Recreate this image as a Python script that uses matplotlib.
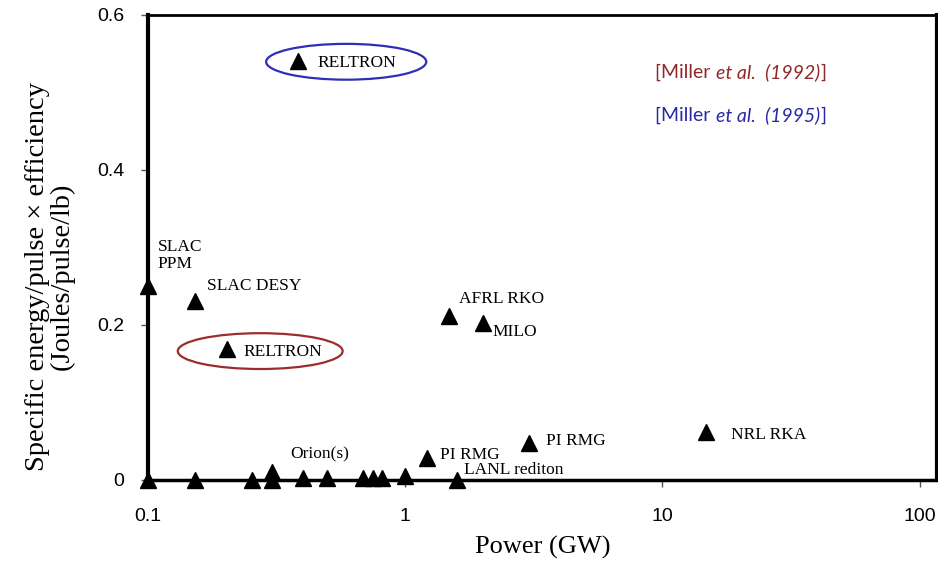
import matplotlib.pyplot as plt
from matplotlib.patches import Ellipse
from matplotlib.ticker import FixedLocator, NullLocator

# power (GW) and specific energy/pulse x efficiency (J/pulse/lb)
power = [0.1, 0.152, 0.203, 0.384, 1.48, 2.0, 1.21, 3.04, 14.8, 1.59,
         0.1, 0.152, 0.254, 0.303, 0.303, 0.4, 0.497, 0.686, 0.75, 0.81, 1.0]
energy = [0.25, 0.231, 0.169, 0.54, 0.212, 0.203, 0.028, 0.048, 0.062, 0.0,
          0.0, 0.0, 0.0, 0.0, 0.01, 0.003, 0.003, 0.003, 0.003, 0.002, 0.005]
names = ["SLAC\nPPM", "SLAC DESY", "RELTRON", "RELTRON", "AFRL RKO", "MILO",
         "PI RMG", "PI RMG", "NRL RKA", "LANL rediton",
         None, None, None, None, None, "Orion(s)", None, None, None, None, None]

x_ticks = [0.1, 1, 10, 100]
x_tick_labels = ["0.1", "1", "10", "100"]
y_ticks = [0, 0.2, 0.4, 0.6]
y_tick_labels = ["0", "0.2", "0.4", "0.6"]

ref_years = ["1992", "1995"]

# label offsets in points (dx, dy)
offsets = {
    0: (7, 22), 1: (9, 11), 2: (12, -2), 3: (14, -1), 4: (7, 12),
    5: (7, -7), 6: (10, 2), 7: (12, 1), 8: (18, -2), 9: (5, 7), 15: (-9, 17),
}

serif = "Liberation Serif"

fig = plt.figure(figsize=(9.38, 5.69), dpi=100)
ax = fig.add_axes([0.158, 0.1565, 0.841, 0.8175])

ax.plot(power, energy, linestyle="none", marker="^", markersize=12,
        color="black", clip_on=False, zorder=3)

for i, name in enumerate(names):
    if name is None:
        continue
    dx, dy = offsets[i]
    ax.annotate(name, (power[i], energy[i]), xytext=(dx, dy),
                textcoords="offset points", ha="left", va="center",
                fontsize=12.5, family=serif, linespacing=1.1)

ax.set_xscale("log")
ax.set_xlim(0.1, 117)
ax.set_ylim(0, 0.6)
ax.xaxis.set_major_locator(FixedLocator(x_ticks))
ax.xaxis.set_minor_locator(NullLocator())
ax.set_xticklabels(x_tick_labels)
ax.set_yticks(y_ticks)
ax.set_yticklabels(y_tick_labels)
ax.tick_params(labelsize=14, length=5, width=1, color="#555555")
for lab in ax.get_xticklabels() + ax.get_yticklabels():
    lab.set_family("Liberation Sans")
ax.tick_params(axis="y", pad=12)
ax.tick_params(axis="x", pad=15)

for side, lw in (("left", 3), ("right", 3), ("top", 2), ("bottom", 2.5)):
    ax.spines[side].set_linewidth(lw)
    ax.spines[side].set_color("black")

ax.set_xlabel("Power (GW)", family=serif, fontsize=19, labelpad=8)
ax.set_ylabel("Specific energy/pulse \u00d7 efficiency\n(Joules/pulse/lb)",
              family=serif, fontsize=20.5, linespacing=1.0)
ax.yaxis.set_label_coords(-0.093, 0.437)

# highlight ellipses
ax.add_patch(Ellipse((0.142, 0.277), 0.209, 0.077, transform=ax.transAxes,
                     fill=False, edgecolor="#9b2d2d", linewidth=1.6))
ax.add_patch(Ellipse((0.251, 0.899), 0.203, 0.077, transform=ax.transAxes,
                     fill=False, edgecolor="#2f2fb5", linewidth=1.6))

# reference notes: upright "[Miller ", italic "et al.  (year)", upright "]"
for year, ypos, col in zip(ref_years, (0.877, 0.783), ("#8f2a2a", "#2a2aa8")):
    kw = dict(fontsize=14, family="Lato", color=col)
    t1 = ax.text(0.643, ypos, "[Miller ", transform=ax.transAxes,
                 ha="left", va="center", **kw)
    t2 = ax.annotate(f"et al.  ({year})", xy=(1, 0), xycoords=t1,
                     ha="left", va="bottom", style="italic", **kw)
    ax.annotate("]", xy=(1, 0), xycoords=t2, ha="left", va="bottom", **kw)

fig.savefig("out.png", dpi=100)
